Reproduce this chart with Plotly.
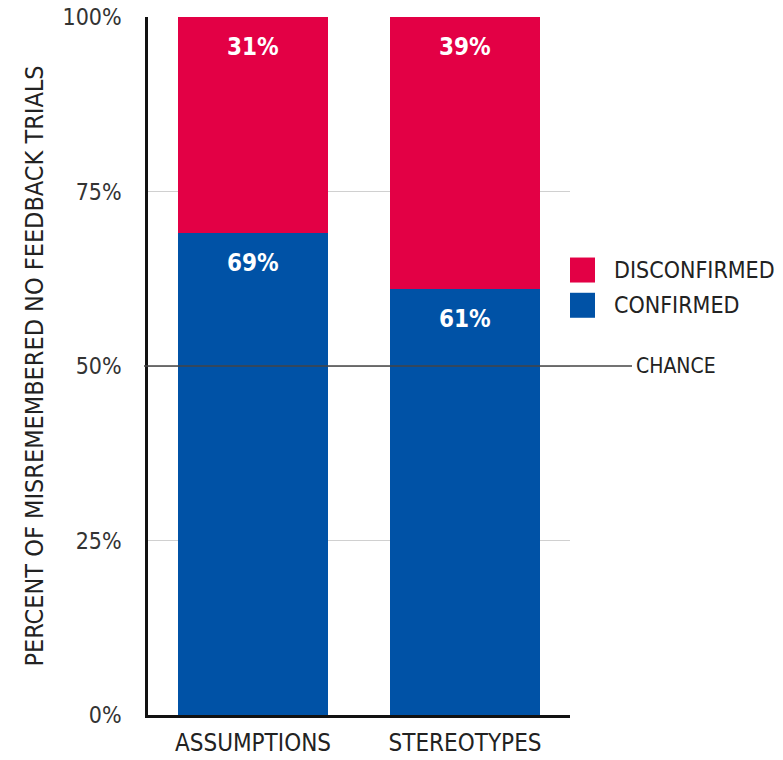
import plotly.graph_objects as go

categories = ["ASSUMPTIONS", "STEREOTYPES"]
confirmed = [69, 61]
disconfirmed = [31, 39]
series_names = ["CONFIRMED", "DISCONFIRMED"]
colors = {"CONFIRMED": "#0052A6", "DISCONFIRMED": "#E30045"}
y_ticks = [0, 25, 50, 75, 100]
y_tick_labels = ["0%", "25%", "50%", "75%", "100%"]
chance_level = 50

FONT = "DejaVu Sans Condensed, Roboto, sans-serif"

fig = go.Figure()
fig.add_trace(go.Bar(x=categories, y=confirmed, name="CONFIRMED",
                     marker=dict(color=colors["CONFIRMED"], line=dict(width=0)),
                     width=0.708, showlegend=False))
fig.add_trace(go.Bar(x=categories, y=disconfirmed, name="DISCONFIRMED",
                     marker=dict(color=colors["DISCONFIRMED"], line=dict(width=0)),
                     width=0.708, showlegend=False))

# value labels near top of each segment
for i, c in enumerate(categories):
    fig.add_annotation(x=c, y=confirmed[i], yshift=-30, text=f"<b>{confirmed[i]}%</b>",
                       showarrow=False, font=dict(family=FONT, size=24, color="white"),
                       yanchor="middle")
    fig.add_annotation(x=c, y=confirmed[i] + disconfirmed[i], yshift=-30,
                       text=f"<b>{disconfirmed[i]}%</b>",
                       showarrow=False, font=dict(family=FONT, size=24, color="white"),
                       yanchor="middle")

# chance line
fig.add_shape(type="line", xref="paper", yref="y", x0=-0.0095, x1=1.147,
              y0=chance_level, y1=chance_level, line=dict(color="#444444", width=1.5),
              layer="above")
fig.add_annotation(xref="paper", yref="y", x=1.152, y=chance_level, text="CHANCE",
                   showarrow=False, xanchor="left", yanchor="middle",
                   font=dict(family=FONT, size=21, color="#222222"))

# custom legend (large square swatches)
legend_items = [("DISCONFIRMED", 0.6375), ("CONFIRMED", 0.587)]
sq_w = 25 / 422
for name, yc in legend_items:
    fig.add_shape(type="rect", xref="paper", yref="paper",
                  x0=1.0, x1=1.0 + sq_w, y0=yc - 12.5 / 698, y1=yc + 12.5 / 698,
                  fillcolor=colors[name], line=dict(width=0))
    fig.add_annotation(xref="paper", yref="paper", x=1.0995, y=yc, text=name,
                       showarrow=False, xanchor="left", yanchor="middle",
                       font=dict(family=FONT, size=23, color="#222222"))

fig.update_layout(
    barmode="stack",
    width=783, height=760,
    margin=dict(l=148, r=213, t=17, b=45, autoexpand=False),
    plot_bgcolor="white", paper_bgcolor="white",
    font=dict(family=FONT, color="#222222"),
    showlegend=False,
)
fig.update_xaxes(range=[-0.495, 1.495], showline=True, linecolor="#111111", linewidth=2.5,
                 ticks="", tickfont=dict(family=FONT, size=24, color="#222222"),
                 showgrid=False, zeroline=False, automargin=False, ticklabelstandoff=4)
fig.update_yaxes(range=[0, 100], tickvals=y_ticks, ticktext=y_tick_labels,
                 showline=True, linecolor="#111111", linewidth=2.5,
                 showgrid=True, gridcolor="#d0d0d0", gridwidth=1, zeroline=False,
                 tickfont=dict(family=FONT, size=23, color="#333333"),
                 ticks="", ticklabelstandoff=19, automargin=False,
                 title=dict(text="PERCENT OF MISREMEMBERED NO FEEDBACK TRIALS",
                            font=dict(family=FONT, size=25, color="#222222"), standoff=12))

fig.write_html("out.html")
